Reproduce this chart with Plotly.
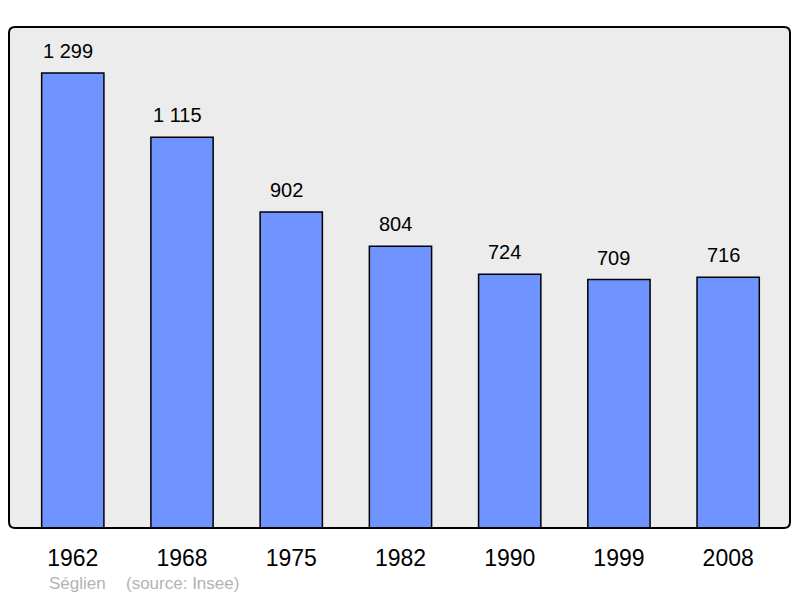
import plotly.graph_objs as go

# population by census year
years = ["1962", "1968", "1975", "1982", "1990", "1999", "2008"]
population = [1299, 1115, 902, 804, 724, 709, 716]
bar_labels = ["1 299", "1 115", "902", "804", "724", "709", "716"]

commune = "Séglien"
source = "(source: Insee)"

pos = list(range(len(years)))
FONT = "Liberation Sans"

bars = go.Bar(
    x=pos,
    y=population,
    width=0.57,
    marker=dict(color="#7094ff", line=dict(color="#000000", width=1.5)),
    hoverinfo="skip",
)

fig = go.Figure(data=[bars])

# value labels above each bar (sit a little left of centre in the original)
for p, v, t in zip(pos, population, bar_labels):
    fig.add_annotation(
        x=p, y=v, text=t, showarrow=False,
        yanchor="bottom", yshift=9, xshift=-5,
        font=dict(family=FONT, size=20, color="#000000"),
    )

# source line under the axis labels
x0 = -0.584
fig.add_annotation(
    x=x0 + (47 - 9) / 109.5, y=-0.11, xref="x", yref="paper",
    text=commune, showarrow=False, xanchor="left", yanchor="middle",
    font=dict(family=FONT, size=17, color="#b3b3b3"),
)
fig.add_annotation(
    x=x0 + (124 - 9) / 109.5, y=-0.11, xref="x", yref="paper",
    text=source, showarrow=False, xanchor="left", yanchor="middle",
    font=dict(family=FONT, size=17, color="#b3b3b3"),
)

# rounded frame around plot area
rx, ry = 6 / 781, 6 / 501
frame = (
    f"M {rx},0 L {1-rx},0 Q 1,0 1,{ry} L 1,{1-ry} Q 1,1 {1-rx},1 "
    f"L {rx},1 Q 0,1 0,{1-ry} L 0,{ry} Q 0,0 {rx},0 Z"
)
fig.add_shape(type="path", path=frame, xref="paper", yref="paper",
              line=dict(color="#000000", width=2), layer="above")

# page body has an 8px margin, so the figure is a bit smaller than the window
fig.update_layout(
    width=784, height=590,
    margin=dict(l=1, r=2, t=19, b=70),
    paper_bgcolor="#ffffff",
    plot_bgcolor="#ececec",
    showlegend=False,
)

fig.update_xaxes(
    range=[x0, 6.566],
    tickvals=pos, ticktext=years,
    ticks="outside", ticklen=9, tickcolor="rgba(0,0,0,0)",
    tickfont=dict(family=FONT, size=23, color="#000000"),
    showgrid=False, zeroline=False, fixedrange=True,
)
fig.update_yaxes(
    range=[0, 1430], visible=False, showgrid=False, zeroline=False,
)

fig.write_html("out.html")
